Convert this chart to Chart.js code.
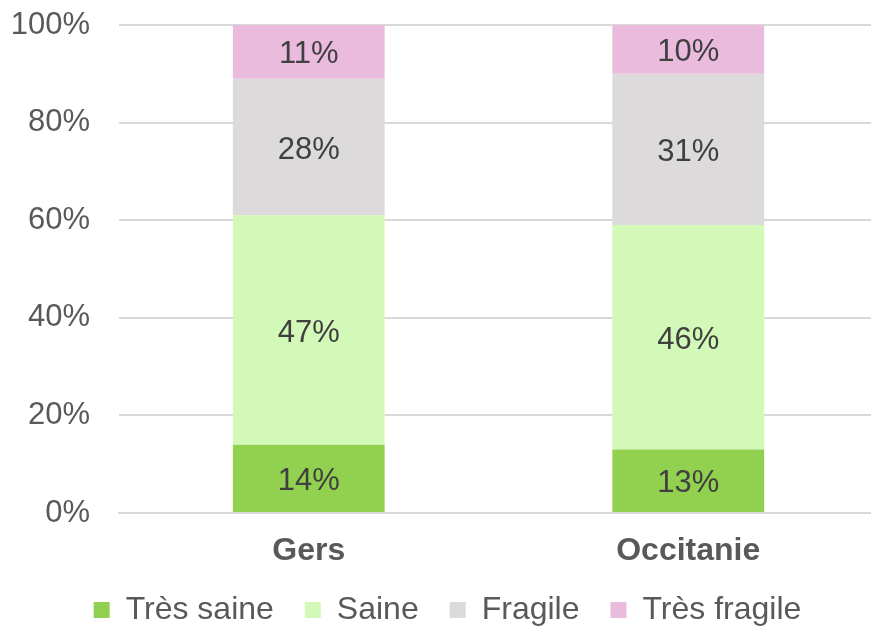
<!DOCTYPE html>
<html>
<head>
<meta charset="utf-8">
<script src="https://cdn.jsdelivr.net/npm/chart.js@4"></script>
<style>
html,body{margin:0;padding:0;background:#fff;}
#wrap{width:871px;height:627px;}
</style>
</head>
<body>
<div id="wrap"><canvas id="c" width="871" height="627"></canvas></div>
<script>
const categories = ["Gers", "Occitanie"];
const seriesNames = ["Très saine", "Saine", "Fragile", "Très fragile"];
const tresSaine = [14, 13];
const saine = [47, 46];
const fragile = [28, 31];
const tresFragile = [11, 10];
const yTicks = [0, 20, 40, 60, 80, 100];

const colors = ["#92D050", "#D3F9B9", "#DCDADB", "#EBBBDE"];
const FONT = "'Liberation Sans', Arial, sans-serif";

const labelPlugin = {
  id: 'barLabels',
  afterLayout(chart) {
    const xs = chart.scales.x;
    xs.right += 7;
    xs.width = xs.right - xs.left;
    chart.chartArea.right += 7;
    chart.chartArea.width = chart.chartArea.right - chart.chartArea.left;
    xs.configure();
  },
  afterUpdate(chart) {
    const lg = chart.legend;
    if (lg) {
      lg.left += 12; lg.right += 12;
      lg.top -= 8; lg.bottom -= 8;
    }
  },
  afterDatasetsDraw(chart) {
    const ctx = chart.ctx;
    ctx.save();
    ctx.font = "31px " + FONT;
    ctx.fillStyle = "#404040";
    ctx.textAlign = "center";
    ctx.textBaseline = "middle";
    chart.data.datasets.forEach((ds, i) => {
      const meta = chart.getDatasetMeta(i);
      meta.data.forEach((el, j) => {
        const y = (el.y + el.base) / 2;
        ctx.fillText(ds.data[j] + "%", el.x, y + 3);
      });
    });
    ctx.restore();
  }
};

const allSeries = [tresSaine, saine, fragile, tresFragile];
new Chart(document.getElementById('c'), {
  type: 'bar',
  data: {
    labels: categories,
    datasets: seriesNames.map((n, i) => ({
      label: n,
      data: allSeries[i],
      backgroundColor: colors[i],
      borderWidth: 0,
      barPercentage: 0.4,
      categoryPercentage: 1.0
    }))
  },
  options: {
    responsive: false,
    animation: false,
    layout: { padding: { left: 0, right: 0, top: 25, bottom: -17 } },
    plugins: {
      tooltip: { enabled: false },
      legend: {
        position: 'bottom',
        labels: {
          font: { family: FONT, size: 32 },
          color: "#595959",
          boxWidth: 16,
          boxHeight: 16,
          padding: 31
        }
      }
    },
    scales: {
      x: {
        stacked: true,
        grid: { display: false, drawTicks: false },
        border: { display: true, color: "#D9D9D9", width: 2 },
        afterFit(scale) { scale.height = 58; scale.paddingLeft = 0; scale.paddingRight = 0; },
        ticks: {
          font: { family: FONT, size: 32, weight: 'bold' },
          color: "#595959",
          padding: 19
        }
      },
      y: {
        stacked: true,
        min: 0,
        max: 100,
        afterBuildTicks(scale) { scale.ticks = yTicks.map(v => ({ value: v })); },
        afterFit(scale) { scale.width = 119; scale.paddingTop = 0; scale.paddingBottom = 0; },
        grid: { color: "#D9D9D9", lineWidth: 2, drawTicks: false },
        border: { display: false },
        ticks: {
          font: { family: FONT, size: 31 },
          color: "#595959",
          padding: 29,
          callback: v => v + "%"
        }
      }
    }
  },
  plugins: [labelPlugin]
});
</script>
</body>
</html>
